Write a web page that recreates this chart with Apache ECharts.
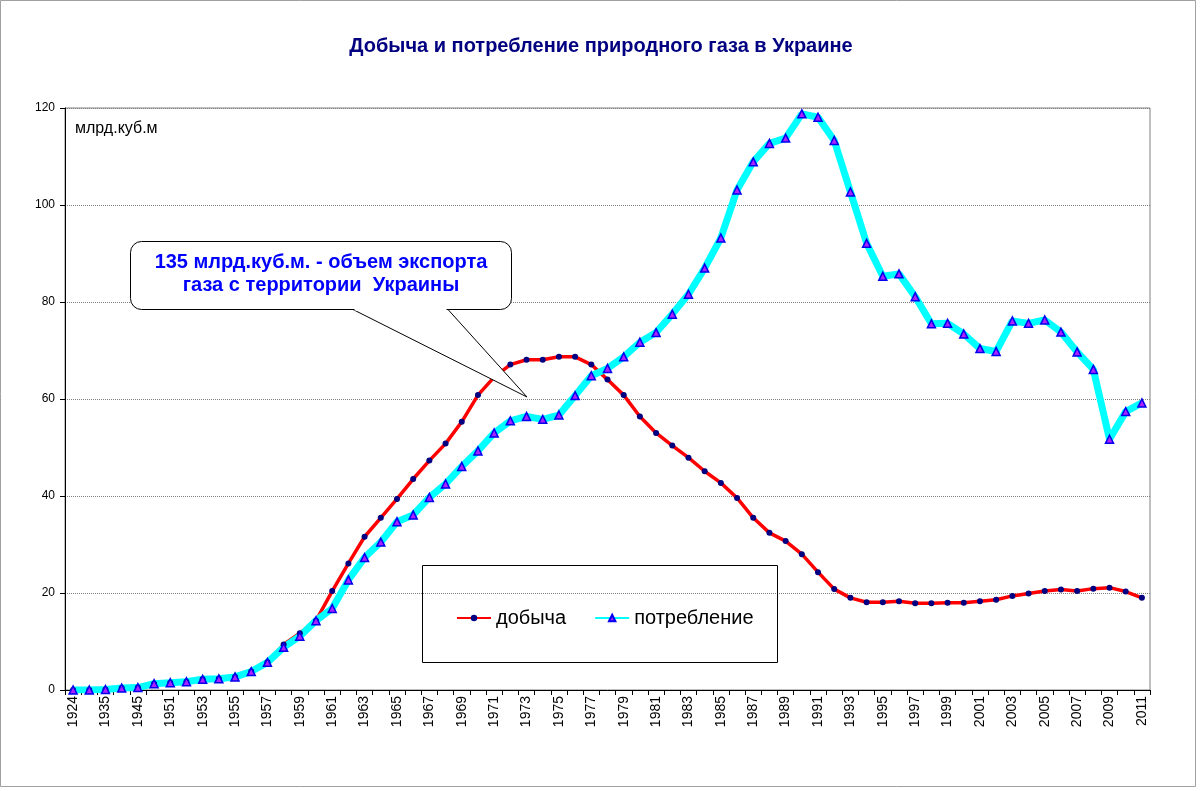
<!DOCTYPE html>
<html>
<head>
<meta charset="utf-8">
<script src="https://cdn.jsdelivr.net/npm/echarts@6/dist/echarts.min.js"></script>
<style>
  html, body { margin: 0; padding: 0; background: #fff; }
  #chart { width: 1202px; height: 791px; }
</style>
</head>
<body>
<div id="chart"></div>
<script>
var years = [
  '1924', '1930', '1935', '1940', '1945', '1950',
  '1951', '1952', '1953', '1954', '1955', '1956', '1957', '1958', '1959', '1960',
  '1961', '1962', '1963', '1964', '1965', '1966', '1967', '1968', '1969', '1970',
  '1971', '1972', '1973', '1974', '1975', '1976', '1977', '1978', '1979', '1980',
  '1981', '1982', '1983', '1984', '1985', '1986', '1987', '1988', '1989', '1990',
  '1991', '1992', '1993', '1994', '1995', '1996', '1997', '1998', '1999', '2000',
  '2001', '2002', '2003', '2004', '2005', '2006', '2007', '2008', '2009', '2010',
  '2011'
];
// добыча, млрд.куб.м
var production = [
  0, 0, 0.1, 0.4, 0.5, 1.3,
  1.5, 1.7, 2.2, 2.3, 2.7, 3.8, 5.7, 9.4, 11.7, 14.3,
  20.4, 26.1, 31.6, 35.5, 39.4, 43.5, 47.3, 50.8, 55.3, 60.8,
  64.5, 67.1, 68.1, 68.1, 68.7, 68.7, 67.1, 64.0, 60.8, 56.4,
  53.0, 50.4, 47.9, 45.1, 42.7, 39.6, 35.5, 32.4, 30.7, 28.0,
  24.3, 20.8, 19.0, 18.1, 18.1, 18.3, 17.9, 17.9, 18.0, 18.0,
  18.3, 18.6, 19.4, 19.9, 20.4, 20.7, 20.4, 20.9, 21.1, 20.3,
  19.0
];
// потребление, млрд.куб.м
var consumption = [
  0, 0, 0.1, 0.4, 0.5, 1.3,
  1.5, 1.7, 2.2, 2.3, 2.7, 3.8, 5.7, 8.8, 11.1, 14.3,
  16.8, 22.7, 27.3, 30.5, 34.7, 36.1, 39.7, 42.5, 46.1, 49.3,
  53.0, 55.5, 56.4, 55.8, 56.7, 60.7, 64.8, 66.3, 68.7, 71.7,
  73.7, 77.5, 81.6, 87.0, 93.2, 103.1, 108.9, 112.7, 113.8, 118.8,
  118.1, 113.3, 102.7, 92.1, 85.3, 85.8, 81.1, 75.5, 75.6, 73.4,
  70.4, 69.8, 76.1, 75.6, 76.3, 73.8, 69.7, 66.1, 51.7, 57.4,
  59.2
];

var chart = echarts.init(document.getElementById('chart'));
var font = 'Liberation Sans, Arial, sans-serif';

var option = {
  backgroundColor: '#fff',
  animation: false,
  textStyle: { fontFamily: font },
  title: {
    text: 'Добыча и потребление природного газа в Украине',
    left: 'center',
    top: 31,
    textStyle: { color: '#000080', fontSize: 20, fontWeight: 'bold', fontFamily: font }
  },
  grid: {
    left: 65, right: 52, top: 108, bottom: 101,
    show: true,
    borderColor: '#808080',
    borderWidth: 1
  },
  legend: {
    left: 451,
    top: 603,
    itemWidth: 34,
    itemHeight: 8,
    itemGap: 28,
    textStyle: { fontSize: 20, color: '#000', fontFamily: font },
    data: ['добыча', 'потребление']
  },
  xAxis: {
    type: 'category',
    data: years,
    axisLine: { lineStyle: { color: '#000' } },
    axisTick: { show: true, interval: 0, length: 5, lineStyle: { color: '#000' } },
    axisLabel: { interval: 1, rotate: 90, fontSize: 14, color: '#000', margin: 6 }
  },
  yAxis: {
    type: 'value',
    min: 0,
    max: 120,
    interval: 20,
    axisLine: { show: true, lineStyle: { color: '#000' } },
    axisTick: { show: true, length: 5, lineStyle: { color: '#000' } },
    axisLabel: { fontSize: 12, color: '#000', margin: 10 },
    splitLine: { lineStyle: { color: '#808080', type: 'dotted', width: 1 } }
  },
  series: [
    {
      name: 'добыча',
      type: 'line',
      data: production,
      symbol: 'circle',
      symbolSize: 6,
      lineStyle: { color: '#ff0000', width: 3.5 },
      itemStyle: { color: '#000080', borderWidth: 0 }
    },
    {
      name: 'потребление',
      type: 'line',
      data: consumption,
      symbol: 'triangle',
      symbolSize: 8,
      lineStyle: { color: '#00ffff', width: 7 },
      itemStyle: { color: '#aa22ff', borderColor: '#0000ee', borderWidth: 1.5 }
    }
  ],
  graphic: [
    {
      type: 'rect',
      shape: { x: 0.5, y: 0.5, width: 1195, height: 786 },
      style: { fill: 'none', stroke: '#a0a0a0', lineWidth: 1 },
      silent: true
    },
    {
      type: 'text',
      x: 75,
      y: 121,
      style: { text: 'млрд.куб.м', fontSize: 16, fill: '#000', fontFamily: font }
    },
    {
      type: 'rect',
      shape: { x: 422.5, y: 565.5, width: 355, height: 97 },
      style: { fill: 'none', stroke: '#000', lineWidth: 1 },
      z: 1
    },
    {
      type: 'rect',
      shape: { x: 130.5, y: 241.5, width: 381, height: 68, r: 11 },
      style: { fill: '#fff', stroke: '#000', lineWidth: 1 },
      z: 100
    },
    {
      type: 'polygon',
      shape: { points: [[353, 309.5], [527, 397], [448, 309.5]] },
      style: { fill: '#fff', stroke: '#000', lineWidth: 1 },
      z: 101
    },
    {
      type: 'line',
      shape: { x1: 354.5, y1: 309.5, x2: 446.5, y2: 309.5 },
      style: { stroke: '#fff', lineWidth: 2 },
      z: 102
    },
    {
      type: 'text',
      x: 321,
      y: 251,
      z: 103,
      style: {
        text: '135 млрд.куб.м. - объем экспорта\nгаза с территории  Украины',
        textAlign: 'center',
        fontSize: 20,
        lineHeight: 23,
        fontWeight: 'bold',
        fill: '#0000ff',
        fontFamily: font
      }
    }
  ]
};

chart.setOption(option);
</script>
</body>
</html>
